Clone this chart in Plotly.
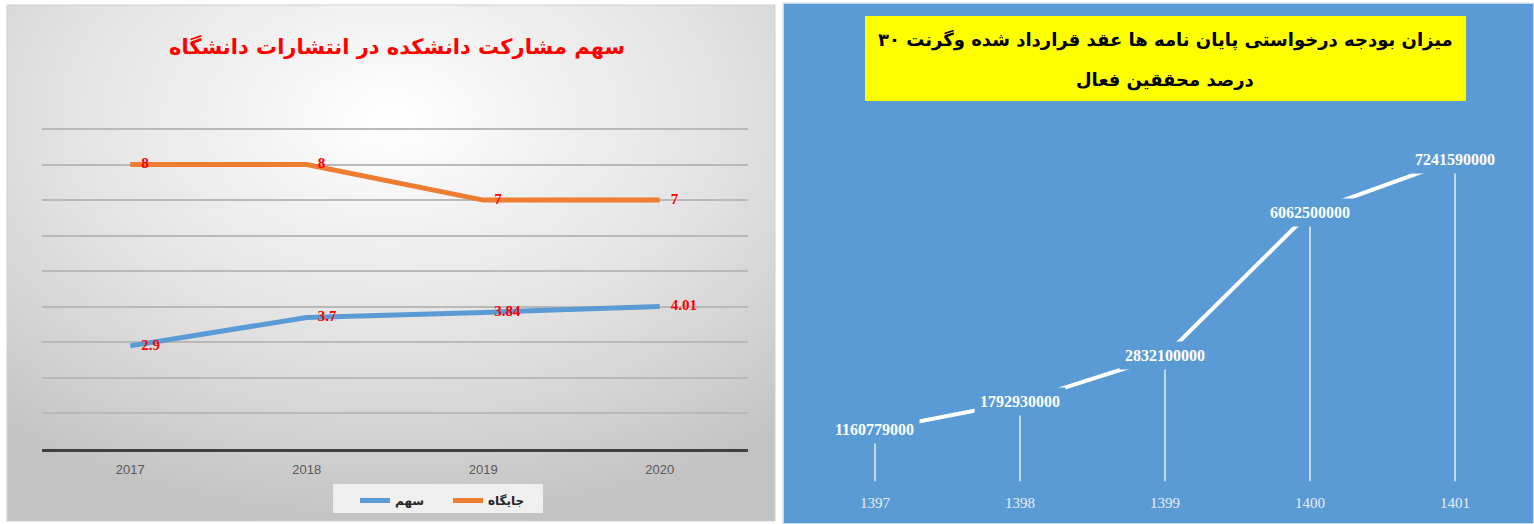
import base64
import plotly.graph_objects as go

# ---------------- data ----------------
years = ["2017", "2018", "2019", "2020"]
share = [2.9, 3.7, 3.84, 4.01]          # سهم
rank = [8, 8, 7, 7]                      # جایگاه
left_title = "سهم مشارکت دانشکده در انتشارات دانشگاه"
name_share = "سهم"
name_rank = "جایگاه"

years_fa = ["1397", "1398", "1399", "1400", "1401"]
budget = [1160779000, 1792930000, 2832100000, 6062500000, 7241590000]
right_title_1 = "میزان بودجه درخواستی پایان نامه ها عقد قرارداد شده وگرنت ۳۰"
right_title_2 = "درصد محققین فعال"

# ---------------- layout helpers (pixel -> paper) ----------------
W, H = 1534, 524
def px(x): return x / W
def py(y): return 1 - y / H

BLUE_BG = "#5B9BD5"
ORANGE = "#ED7D31"
BLUE = "#5B9BD5"

LABEL_FONT = dict(family="Liberation Serif", size=15, color="#ff0000", weight="bold")

fig = go.Figure()

# left chart traces
fig.add_trace(go.Scatter(
    x=years, y=share, name=name_share, mode="lines+markers+text",
    line=dict(color=BLUE, width=5),
    marker=dict(size=16, color="rgba(0,0,0,0)"),
    text=[str(v) for v in share], textposition="middle right",
    textfont=LABEL_FONT,
    xaxis="x", yaxis="y", cliponaxis=False, hoverinfo="skip"))
fig.add_trace(go.Scatter(
    x=years, y=rank, name=name_rank, mode="lines+markers+text",
    line=dict(color=ORANGE, width=5),
    marker=dict(size=16, color="rgba(0,0,0,0)"),
    text=[str(v) for v in rank], textposition="middle right",
    textfont=LABEL_FONT,
    xaxis="x", yaxis="y", cliponaxis=False, hoverinfo="skip"))

# right chart: line with drop lines
fig.add_trace(go.Scatter(
    x=years_fa, y=budget, mode="lines", showlegend=False,
    line=dict(color="white", width=4),
    error_y=dict(type="data", symmetric=False, array=[0] * len(budget),
                 arrayminus=budget, width=0, thickness=1.5,
                 color="rgba(255,255,255,0.85)"),
    xaxis="x2", yaxis="y2", cliponaxis=False, hoverinfo="skip"))

annotations = []
for i, v in enumerate(budget):
    annotations.append(dict(
        x=i, y=v, xref="x2", yref="y2", text=str(v), showarrow=False,
        bgcolor=BLUE_BG, borderpad=5,
        font=dict(family="Liberation Serif", size=16, color="white", weight="bold")))

# titles
annotations.append(dict(
    x=px(397), y=py(47), xref="paper", yref="paper", text=left_title,
    showarrow=False, xanchor="center", yanchor="middle",
    font=dict(family="DejaVu Sans", size=21, color="#ff0000", weight="bold")))
annotations.append(dict(
    x=px(1165), y=py(40), xref="paper", yref="paper", text=right_title_1,
    showarrow=False, xanchor="center", yanchor="middle",
    font=dict(family="DejaVu Sans", size=18, color="black", weight="bold")))
annotations.append(dict(
    x=px(1165), y=py(80), xref="paper", yref="paper", text=right_title_2,
    showarrow=False, xanchor="center", yanchor="middle",
    font=dict(family="DejaVu Sans", size=18, color="black", weight="bold")))

# gradient background for left panel (svg data uri)
svg = ('<svg xmlns="http://www.w3.org/2000/svg" width="768" height="516" '
       'viewBox="0 0 768 516" preserveAspectRatio="none">'
       '<defs><radialGradient id="g" cx="50%" cy="22%" r="80%">'
       '<stop offset="0" stop-color="#ffffff"/>'
       '<stop offset="0.55" stop-color="#e2e2e2"/>'
       '<stop offset="1" stop-color="#c2c2c2"/>'
       '</radialGradient></defs>'
       '<rect width="768" height="516" fill="url(#g)"/></svg>')
svg_uri = "data:image/svg+xml;base64," + base64.b64encode(svg.encode()).decode()

shapes = [
    dict(type="rect", xref="paper", yref="paper", x0=px(7), x1=px(775),
         y0=py(521), y1=py(5), line=dict(color="#cfcfcf", width=1),
         fillcolor="rgba(0,0,0,0)", layer="below"),
    # legend box
    dict(type="rect", xref="paper", yref="paper", x0=px(333), x1=px(543),
         y0=py(513), y1=py(484), line=dict(width=0),
         fillcolor="#efefef", layer="below"),
    dict(type="rect", xref="paper", yref="paper", x0=px(783), x1=px(1534),
         y0=py(524), y1=py(3), line=dict(color="#e3ebf5", width=1.5),
         fillcolor=BLUE_BG, layer="below"),
    dict(type="rect", xref="paper", yref="paper", x0=px(865), x1=px(1466),
         y0=py(101), y1=py(16), line=dict(width=0),
         fillcolor="#ffff00", layer="below"),
]

UNIT = (449 - 129) / 9.0
YTOP = 9.05

fig.update_layout(
    width=W, height=H,
    margin=dict(l=0, r=0, t=0, b=0),
    paper_bgcolor="white", plot_bgcolor="rgba(0,0,0,0)",
    images=[dict(source=svg_uri, xref="paper", yref="paper",
                 x=px(7), y=py(5), sizex=768 / W, sizey=516 / H,
                 xanchor="left", yanchor="top", sizing="stretch", layer="below")],
    shapes=shapes, annotations=annotations,
    showlegend=True,
    legend=dict(orientation="h", x=px(355), y=py(486), xanchor="left",
                yanchor="top", bgcolor="rgba(0,0,0,0)", borderwidth=0,
                font=dict(family="DejaVu Sans", size=12, color="#262626", weight="bold"),
                entrywidth=48, itemwidth=30),
    xaxis=dict(domain=[px(42), px(748)], type="category", range=[-0.5, 3.5],
               showgrid=False, showline=True, linecolor="#404040", linewidth=3,
               ticks="", tickfont=dict(family="Liberation Sans Narrow, Liberation Sans",
                                       size=13, color="#595959"),
               ticklabelstandoff=6, fixedrange=True, anchor="y"),
    yaxis=dict(domain=[py(449), py(449 - YTOP * UNIT)], range=[0, YTOP], dtick=1,
               showgrid=True, gridcolor="#b9b9b9", gridwidth=1.5,
               zeroline=False, showticklabels=False, fixedrange=True, anchor="x"),
    xaxis2=dict(domain=[px(802.5), px(1527.5)], type="category", range=[-0.5, 4.5],
                showgrid=False, showline=False, zeroline=False, ticks="",
                tickfont=dict(family="Liberation Serif", size=15, color="#e8eff8"),
                ticklabelstandoff=10, fixedrange=True, anchor="y2"),
    yaxis2=dict(domain=[py(481.5), py(481.5 - 8 * 44.4)], range=[0, 8e9],
                showgrid=False, zeroline=False, showticklabels=False,
                showline=False, fixedrange=True, anchor="x2"),
)

fig.write_html("out.html",
               config={"displayModeBar": False},
               post_script="document.body.style.margin='0';"
                           "document.body.style.overflow='hidden';")
